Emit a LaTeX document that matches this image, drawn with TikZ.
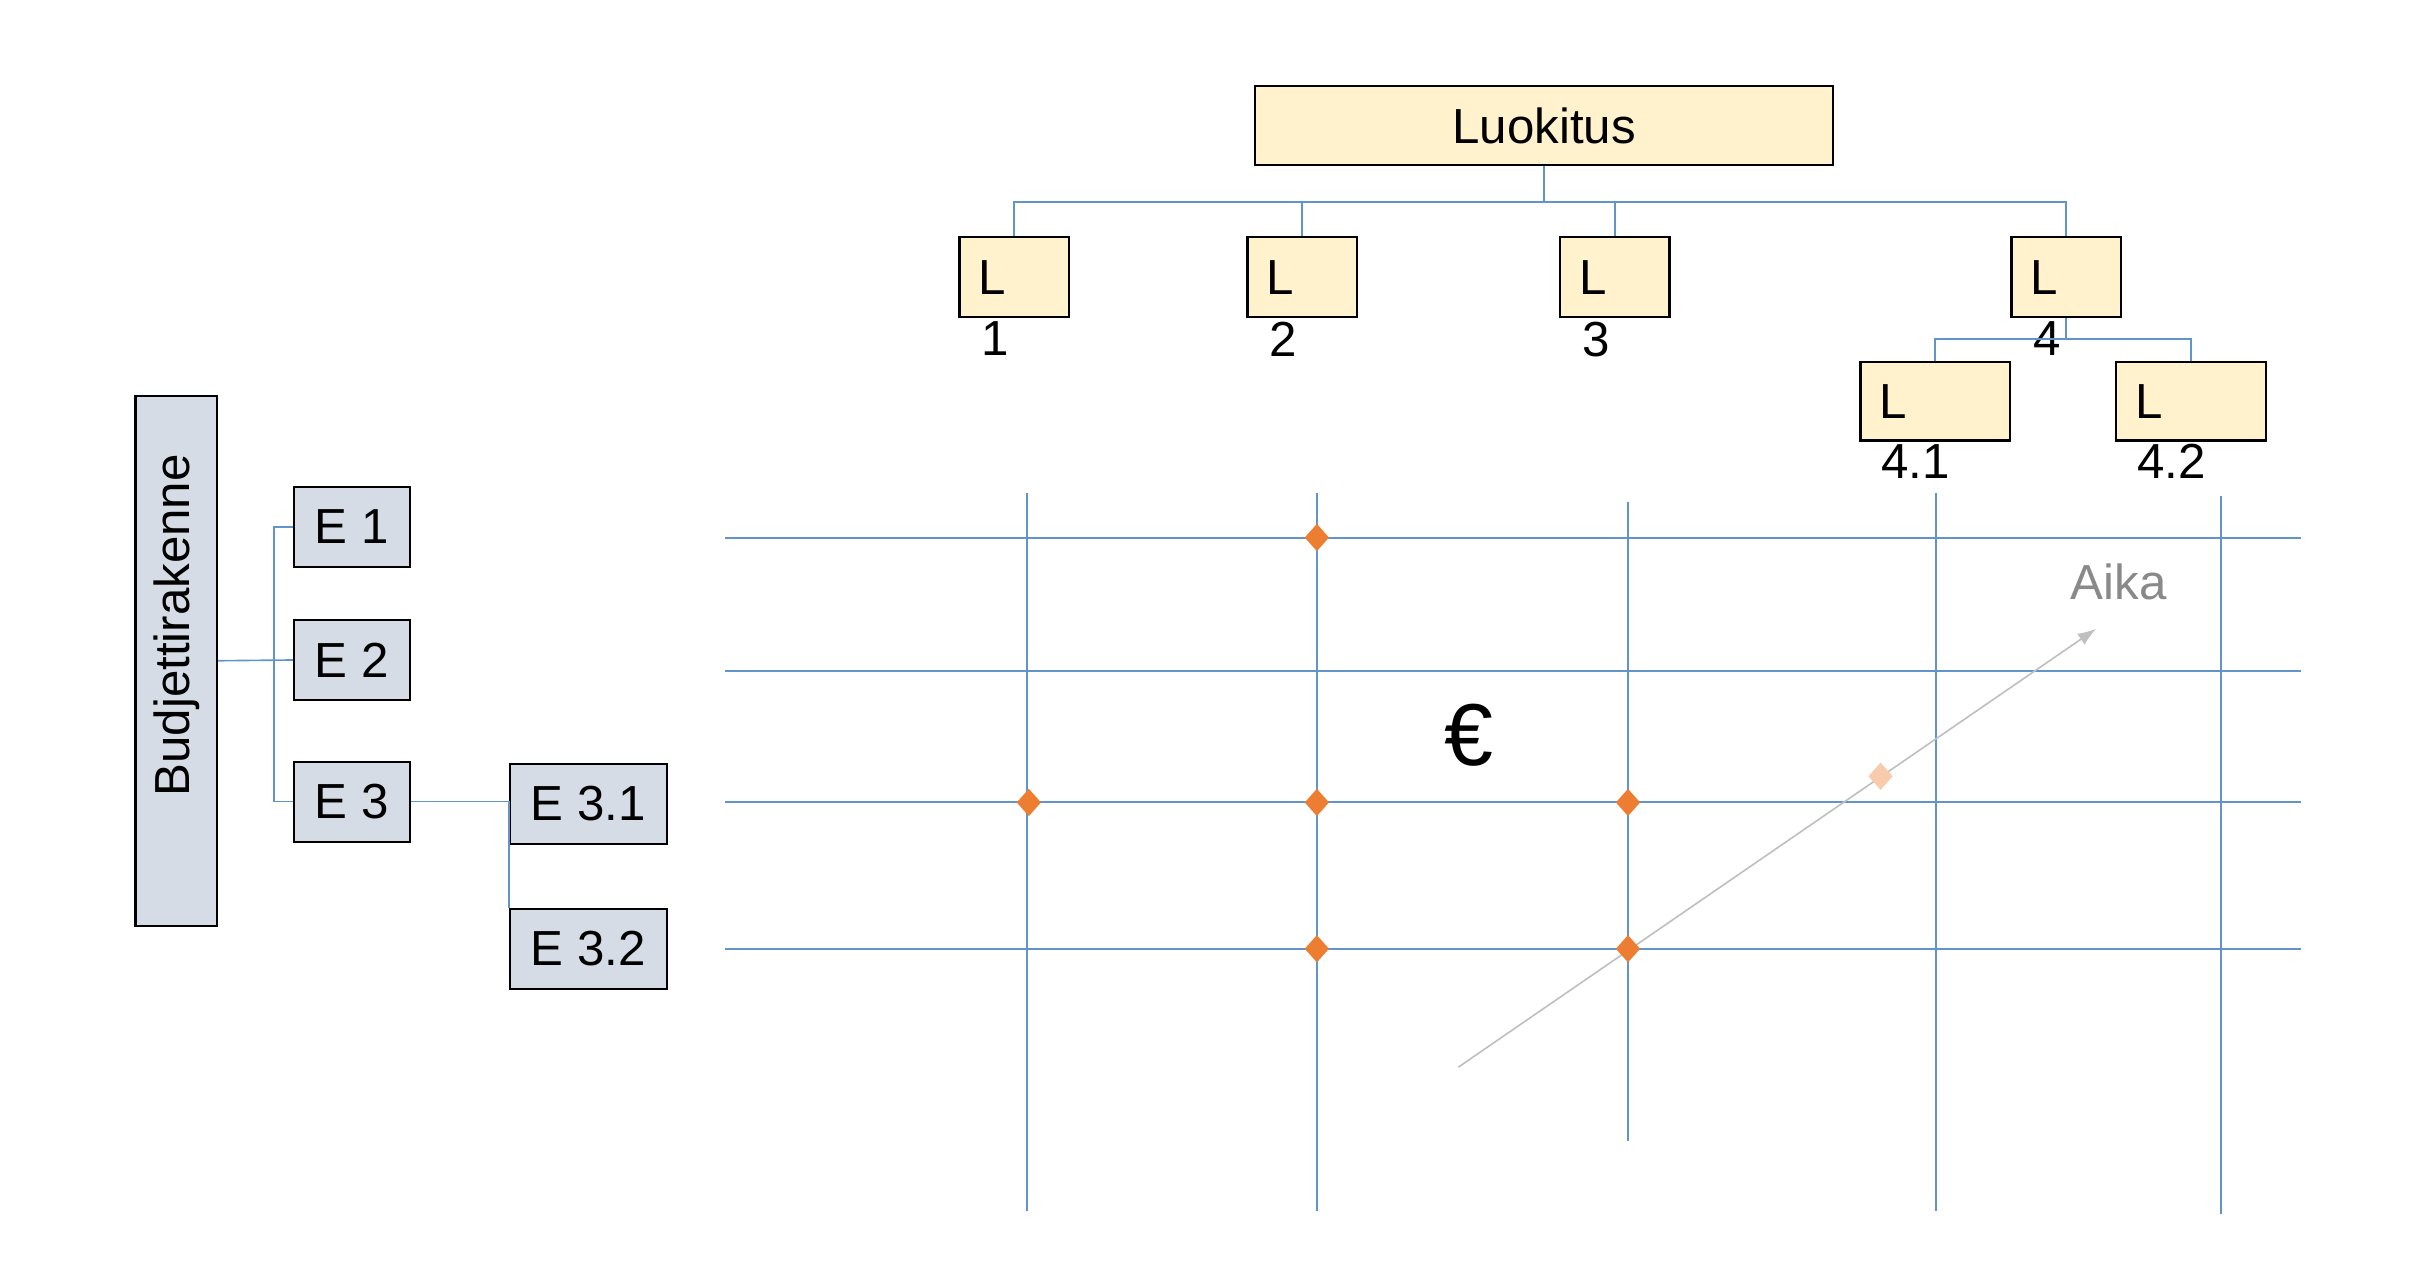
\documentclass[tikz,border=0pt]{standalone}
\usepackage{fontspec}
\setmainfont{Liberation Sans}
\usetikzlibrary{shapes.geometric,arrows.meta}

\definecolor{gridblue}{RGB}{98,148,204}
\definecolor{lfill}{RGB}{255,242,204}
\definecolor{efill}{RGB}{214,220,229}
\definecolor{hitorange}{RGB}{237,125,49}
\definecolor{hitpale}{RGB}{248,203,173}
\definecolor{timegray}{RGB}{191,191,191}
\definecolor{aikagray}{RGB}{137,137,137}

\begin{document}
\begin{tikzpicture}[x=0.02cm,y=-0.02cm,
  txt/.style={font=\fontsize{18.2}{21.8}\selectfont},
  lbox/.style={txt,draw=black,line width=0.8pt,fill=lfill,inner ysep=0pt},
  lcell/.style={lbox,text width=#1,align=left,inner xsep=0.25cm,minimum height=1.04cm},
  lnum/.style={txt,inner sep=0pt,anchor=north west},
  ebox/.style={txt,draw=black,line width=0.8pt,fill=efill,inner sep=0pt,minimum height=1.04cm},
  conn/.style={gridblue,line width=0.6pt},
  gridln/.style={gridblue,line width=0.75pt},
  hitpt/.style={diamond,fill=hitorange,inner sep=0pt,minimum width=0.32cm,minimum height=0.36cm},
  timeline/.style={timegray,line width=0.6pt,-{Latex[length=0.24cm,width=0.17cm]}}]

\useasboundingbox (0,0) rectangle (1568,827.2);

% luokitus tree
\node[lbox,minimum width=7.5cm,minimum height=1.02cm] (luok) at (1002.5,81.5) {Luokitus};

\node[lcell=0.92cm] (l1) at (658.5,180) {L};
\node[lcell=0.92cm] (l2) at (845.5,180) {L};
\node[lcell=0.92cm] (l3) at (1048.5,180) {L};
\node[lcell=0.92cm] (l4) at (1341.5,180) {L};
\node[lcell=1.44cm,minimum height=1.02cm] (l41) at (1256.5,260.5) {L};
\node[lcell=1.44cm,minimum height=1.02cm] (l42) at (1422.5,260.5) {L};

\node[lnum] (n1) at ([xshift=0.29cm,yshift=-0.04cm]l1.south west) {1};
\node[lnum] (n2) at ([xshift=0.29cm,yshift=-0.04cm]l2.south west) {2};
\node[lnum] (n3) at ([xshift=0.29cm,yshift=-0.04cm]l3.south west) {3};
\node[lnum] (n4) at ([xshift=0.29cm,yshift=-0.04cm]l4.south west) {4};
\node[lnum] (n41) at ([xshift=0.28cm,yshift=-0.03cm]l41.south west) {4.1};
\node[lnum] (n42) at ([xshift=0.28cm,yshift=-0.03cm]l42.south west) {4.2};

\coordinate (bus) at (1002.5,131);
\draw[conn] (luok.south) -- (bus);
\foreach \n in {l1,l2,l3,l4}
  \draw[conn] (bus) -| (\n.north);

\coordinate (bus4) at (1341.5,220);
\draw[conn] (l4.south) -- (bus4);
\foreach \n in {l41,l42}
  \draw[conn] (bus4) -| (\n.north);

% budjettirakenne tree
\node[ebox,minimum width=1.06cm,minimum height=6.88cm] (budj) at (114.5,429) {\rotatebox{90}{\hspace*{0.92cm}Budjettirakenne}};
\node[ebox,minimum width=1.5cm] (e1) at (228.5,342) {E 1};
\node[ebox,minimum width=1.5cm] (e2) at (228.5,428.5) {E 2};
\node[ebox,minimum width=1.5cm] (e3) at (228.5,520.5) {E 3};
\node[ebox,minimum width=2.04cm] (e31) at (382,522) {E 3.1};
\node[ebox,minimum width=2.04cm] (e32) at (382,616) {E 3.2};

\coordinate (ebus) at (178,428.5);
\draw[conn] (budj.east) -- (e2.west);
\draw[conn] (e1.west) -- (e1.west -| ebus) -- (e3.west -| ebus) -- (e3.west);
\draw[conn] (e3.east) -- (e3.east -| e31.west) -- (e32.north west);

% grid
\foreach \y in {349,435.5,521,616}
  \draw[gridln] (471,\y) -- (1494,\y);
\foreach \x/\a/\b in {667/320/786, 855/320/786, 1057/326/741, 1257/320/786, 1442/322/788}
  \draw[gridln] (\x,\a) -- (\x,\b);

\coordinate (t0) at (946.8,692.9);
\coordinate (t1) at (1361,408.2);
\draw[timeline] (t0) -- (t1);

\foreach \x/\y [count=\i] in {855/349, 668/521, 855/521, 1057/521, 855/616, 1057/616}
  \node[hitpt] (d\i) at (\x,\y) {};
\node[hitpt,fill=hitpale] (dpale) at (1221,504) {};

\node[font=\fontsize{32.5}{39}\selectfont] (euro) at (953.5,477.5) {€};
\node[txt,text=aikagray] (aika) at (1375.5,377.7) {Aika};

\end{tikzpicture}
\end{document}
